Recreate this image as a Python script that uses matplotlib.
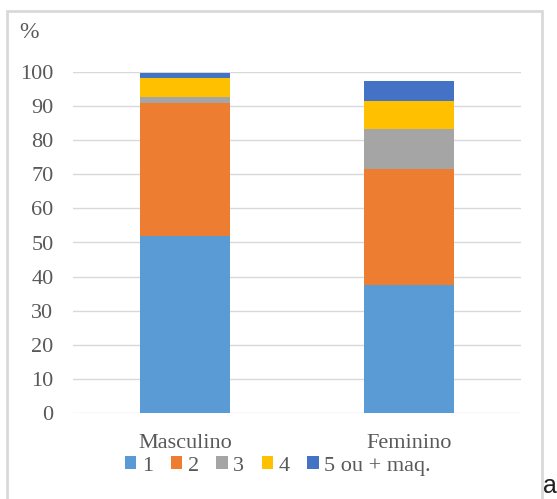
import numpy as np
import matplotlib
matplotlib.use("Agg")
from matplotlib import pyplot as plt
from matplotlib.patches import Rectangle

categories = ["Masculino", "Feminino"]
series_names = ["1", "2", "3", "4", "5 ou + maq."]
colors = ["#5b9bd5", "#ed7d31", "#a5a5a5", "#ffc000", "#4472c4"]
v1 = [51.8, 37.6]
v2 = [39.1, 33.9]
v3 = [1.8, 11.9]
v4 = [5.4, 8.2]
v5 = [1.6, 5.7]
yticks = [0, 10, 20, 30, 40, 50, 60, 70, 80, 90, 100]

plt.rcParams["font.family"] = ["Liberation Serif", "DejaVu Serif"]
txt = "#595959"
grid = "#d9d9d9"

fig = plt.figure(figsize=(5.57, 4.99), dpi=100)
ax = fig.add_axes([73/557, 86/499, 448/557, 341/499])

x = np.arange(len(categories))
bottom = np.zeros(len(categories))
for name, vals, c in zip(series_names, [v1, v2, v3, v4, v5], colors):
    ax.bar(x, vals, 0.4, bottom=bottom, color=c, label=name, zorder=3, clip_on=False)
    bottom += np.array(vals)

ax.set_xlim(-0.5, 1.5)
ax.set_ylim(0, 100)
ax.set_yticks(yticks)
ax.set_xticks(x)
ax.set_xticklabels(categories)
ax.tick_params(length=0, labelsize=16, colors=txt)
ax.tick_params(axis="x", pad=15)
ax.tick_params(axis="y", pad=14)
ax.grid(axis="y", color=grid, lw=1, zorder=0)
for s in ax.spines.values():
    s.set_visible(False)

fig.text(19/557, 1 - 32/499, "%", fontsize=17, color=txt, va="center")

fig.legend(loc="center", bbox_to_anchor=(278/557, 1 - 466/499), ncol=5, frameon=False,
           fontsize=16, labelcolor=txt, handlelength=0.5, handleheight=0.5,
           handletextpad=0.25, columnspacing=0.8)

fig.patches.append(Rectangle((7/557, -0.01), 535/557, (499 - 11)/499 + 0.01,
                             transform=fig.transFigure, fill=False, ec=grid, lw=2))
fig.text(543/557, 0.002, "a", fontsize=18, family="Liberation Sans", va="bottom", color="#222222")

fig.savefig("out.png", dpi=100)
